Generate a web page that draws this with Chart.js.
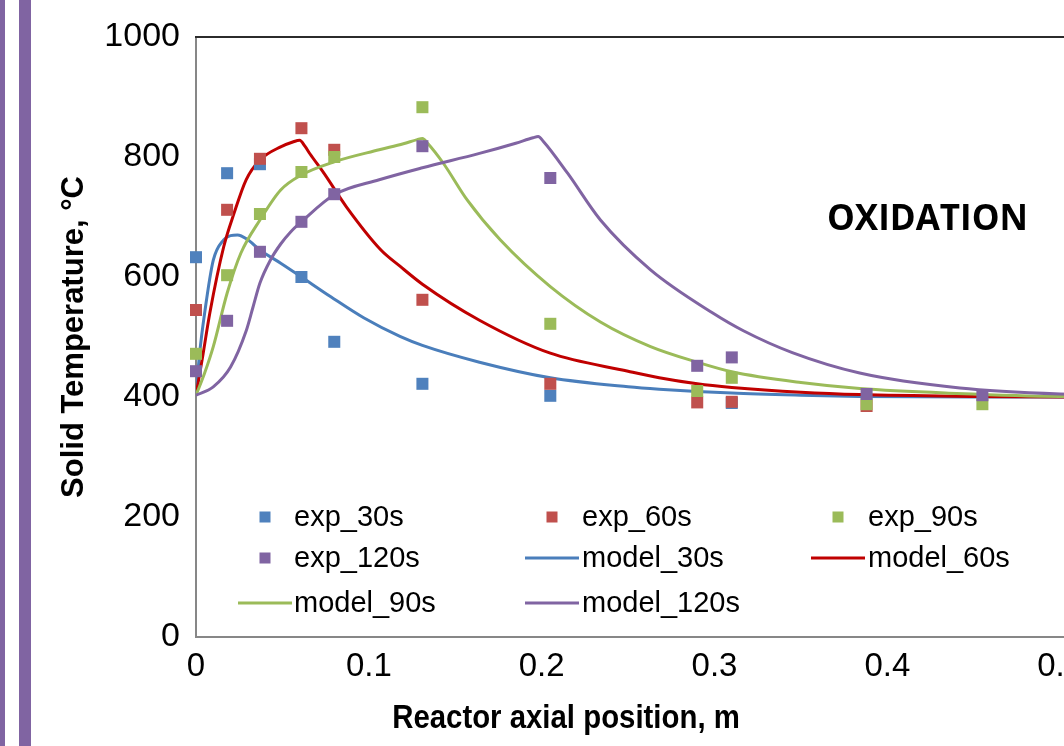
<!DOCTYPE html>
<html>
<head>
<meta charset="utf-8">
<script src="https://cdn.jsdelivr.net/npm/chart.js@4.4.1/dist/chart.umd.min.js"></script>
<style>
  html, body { margin: 0; padding: 0; background: #fff; overflow: hidden; }
  body { width: 1064px; height: 746px; position: relative; }
  #wrap { position: absolute; left: 0; top: 0; width: 1300px; height: 746px; }
  .stripe { position: absolute; top: 0; height: 746px; background: #8064A2; }
</style>
</head>
<body>
<div id="wrap"><canvas id="chart" width="1300" height="746"></canvas></div>
<div class="stripe" style="left:0;width:5px"></div>
<div class="stripe" style="left:19px;width:12px"></div>
<script>
// measured positions along the reactor, m
const expX = [0, 0.018, 0.037, 0.061, 0.080, 0.131, 0.205, 0.290, 0.310, 0.388, 0.455];
const exp30 = [633, 773, 788, 600, 492, 422, 402, null, 390, null, null];
const exp60 = [545, 712, 797, 848, 812, 562, 422, 391, 392, 385, null];
const exp90 = [472, 603, 705, 775, 800, 883, 522, 410, 432, 388, 388];
const exp120 = [443, 527, 642, 692, 738, 818, 765, 452, 466, 405, 403];

// model curves
const m30X = [0, 0.002, 0.005, 0.010, 0.016, 0.020, 0.024, 0.030, 0.037, 0.049, 0.061, 0.078, 0.097, 0.118, 0.131, 0.164, 0.205, 0.25, 0.268, 0.31, 0.35, 0.384, 0.45, 0.5, 0.6];
const m30 = [403, 470, 540, 628, 662, 669, 670, 662, 645, 623, 600, 567, 532, 501, 486, 458, 432, 417, 413, 406.5, 403, 401, 400, 400, 400];

const m60X = [0, 0.004, 0.008, 0.016, 0.022, 0.029, 0.037, 0.049, 0.056, 0.060, 0.063, 0.066, 0.074, 0.087, 0.107, 0.118, 0.131, 0.164, 0.205, 0.25, 0.268, 0.29, 0.31, 0.35, 0.384, 0.45, 0.5, 0.6];
const m60 = [403, 470, 540, 650, 706, 762, 795, 817, 825, 828, 818, 805, 773, 717, 645, 618, 588, 528, 473, 443, 432, 422, 416, 408, 404, 401, 400, 400];

const m90X = [0, 0.005, 0.010, 0.018, 0.026, 0.037, 0.049, 0.061, 0.080, 0.106, 0.120, 0.128, 0.131, 0.134, 0.143, 0.157, 0.176, 0.205, 0.234, 0.263, 0.29, 0.31, 0.35, 0.384, 0.44, 0.5, 0.6];
const m90 = [403, 440, 484, 573, 640, 695, 745, 770, 792, 812, 822, 829, 831, 823, 790, 728, 662, 584, 525, 484, 458, 442, 424, 414, 406, 401, 400];

const m120X = [0, 0.010, 0.020, 0.029, 0.033, 0.037, 0.043, 0.049, 0.055, 0.061, 0.080, 0.106, 0.131, 0.164, 0.185, 0.195, 0.198, 0.201, 0.215, 0.234, 0.263, 0.299, 0.317, 0.345, 0.384, 0.442, 0.5, 0.6];
const m120 = [403, 417, 450, 510, 550, 590, 628, 655, 676, 692, 737, 762, 782, 806, 823, 832, 834, 826, 773, 695, 612, 540, 510, 474, 440, 415, 405, 401];

const seriesNames = ['exp_30s', 'exp_60s', 'exp_90s', 'exp_120s', 'model_30s', 'model_60s', 'model_90s', 'model_120s'];
const xTitle = 'Reactor axial position, m';
const yTitle = 'Solid Temperature, °C';

const toPoints = (xs, ys) => xs.map((x, i) => ({ x: x, y: ys[i] })).filter(p => p.y !== null);

function expSet(label, ys, color, order) {
    return {
        label: label, data: toPoints(expX, ys), showLine: false, clip: false,
        pointStyle: 'rect', pointRadius: 8.5, pointHoverRadius: 8.5,
        backgroundColor: color, borderColor: color, borderWidth: 0, order: order
    };
}

function modelSet(label, xs, ys, color, order) {
    return {
        label: label, data: toPoints(xs, ys), showLine: true, cubicInterpolationMode: 'monotone',
        pointRadius: 0, borderColor: color, backgroundColor: color, borderWidth: 3, order: order
    };
}

// spots for the legend drawn inside the plot, as in the original
const legendSpots = [
    { x: 265, y: 517, tx: 294 }, { x: 552, y: 517, tx: 582 }, { x: 838, y: 517, tx: 868 },
    { x: 265, y: 558, tx: 294 }, { x: 552, y: 558, tx: 582 }, { x: 838, y: 558, tx: 868 },
    { x: 265, y: 603, tx: 294 }, { x: 552, y: 603, tx: 582 }
];

const legendPlugin = {
    id: 'innerLegend',
    afterDatasetsDraw(chart) {
        const ctx = chart.ctx;
        ctx.save();
        ctx.font = '29px "Liberation Sans", Arial, sans-serif';
        ctx.textBaseline = 'middle';
        ctx.textAlign = 'left';
        chart.data.datasets.forEach((ds, i) => {
            const s = legendSpots[i];
            if (ds.showLine) {
                ctx.strokeStyle = ds.borderColor;
                ctx.lineWidth = 3;
                ctx.beginPath();
                ctx.moveTo(s.x - 27, s.y);
                ctx.lineTo(s.x + 27, s.y);
                ctx.stroke();
            } else {
                ctx.fillStyle = ds.backgroundColor;
                ctx.fillRect(s.x - 5.5, s.y - 5.5, 11, 11);
            }
            ctx.fillStyle = '#000';
            ctx.fillText(ds.label, s.tx, s.y + 1);
        });
        ctx.restore();
    }
};

const framePlugin = {
    id: 'frame',
    afterDraw(chart) {
        const { ctx, chartArea } = chart;
        ctx.save();
        ctx.strokeStyle = '#2b2b2b';
        ctx.lineWidth = 2;
        ctx.beginPath();
        ctx.moveTo(chartArea.left - 1, chartArea.top);
        ctx.lineTo(chartArea.right, chartArea.top);
        ctx.stroke();
        ctx.fillStyle = '#000';
        ctx.font = 'bold 35px "Open Sans", "Liberation Sans", sans-serif';
        ctx.textBaseline = 'middle';
        ctx.fillText('OXIDATION', 827, 220);
        // x title, a bit condensed like the original
        ctx.font = 'bold 33px "Liberation Sans", Arial, sans-serif';
        ctx.textAlign = 'center';
        ctx.translate(566, 719);
        ctx.scale(0.89, 1);
        ctx.fillText(xTitle, 0, 0);
        ctx.restore();
    }
};

const ctx = document.getElementById('chart').getContext('2d');
new Chart(ctx, {
    type: 'scatter',
    data: {
        datasets: [
            expSet(seriesNames[0], exp30, '#4F81BD', 4),
            expSet(seriesNames[1], exp60, '#C0504D', 3),
            expSet(seriesNames[2], exp90, '#9BBB59', 2),
            expSet(seriesNames[3], exp120, '#8064A2', 1),
            modelSet(seriesNames[4], m30X, m30, '#4A7EBB', 8),
            modelSet(seriesNames[5], m60X, m60, '#C00000', 7),
            modelSet(seriesNames[6], m90X, m90, '#9BBB59', 6),
            modelSet(seriesNames[7], m120X, m120, '#8064A2', 5)
        ]
    },
    options: {
        responsive: false,
        animation: false,
        layout: { padding: { left: 0, top: 37, right: 67, bottom: 0 } },
        plugins: { legend: { display: false }, tooltip: { enabled: false } },
        scales: {
            x: {
                type: 'linear', min: 0, max: 0.6,
                afterFit: s => { s.height = 109; },
                grid: { display: false, drawTicks: false },
                border: { display: true, color: '#878787', width: 2 },
                ticks: {
                    stepSize: 0.1, padding: 10, color: '#000',
                    font: { family: '"Liberation Sans", Arial', size: 33 },
                    callback: v => String(+v.toFixed(1))
                },
                title: { display: false, text: xTitle }
            },
            y: {
                min: 0, max: 1000,
                afterFit: s => { s.width = 196; },
                grid: { display: false, drawTicks: false },
                border: { display: true, color: '#878787', width: 2 },
                ticks: {
                    stepSize: 200, padding: 16, color: '#000',
                    font: { family: '"Liberation Sans", Arial', size: 34 },
                    callback: v => String(v)
                },
                title: {
                    display: true, text: yTitle, color: '#000',
                    font: { family: '"Liberation Sans", Arial', size: 31, weight: 'bold' },
                    padding: { top: 56, bottom: 0 }
                }
            }
        }
    },
    plugins: [legendPlugin, framePlugin]
});
</script>
</body>
</html>
